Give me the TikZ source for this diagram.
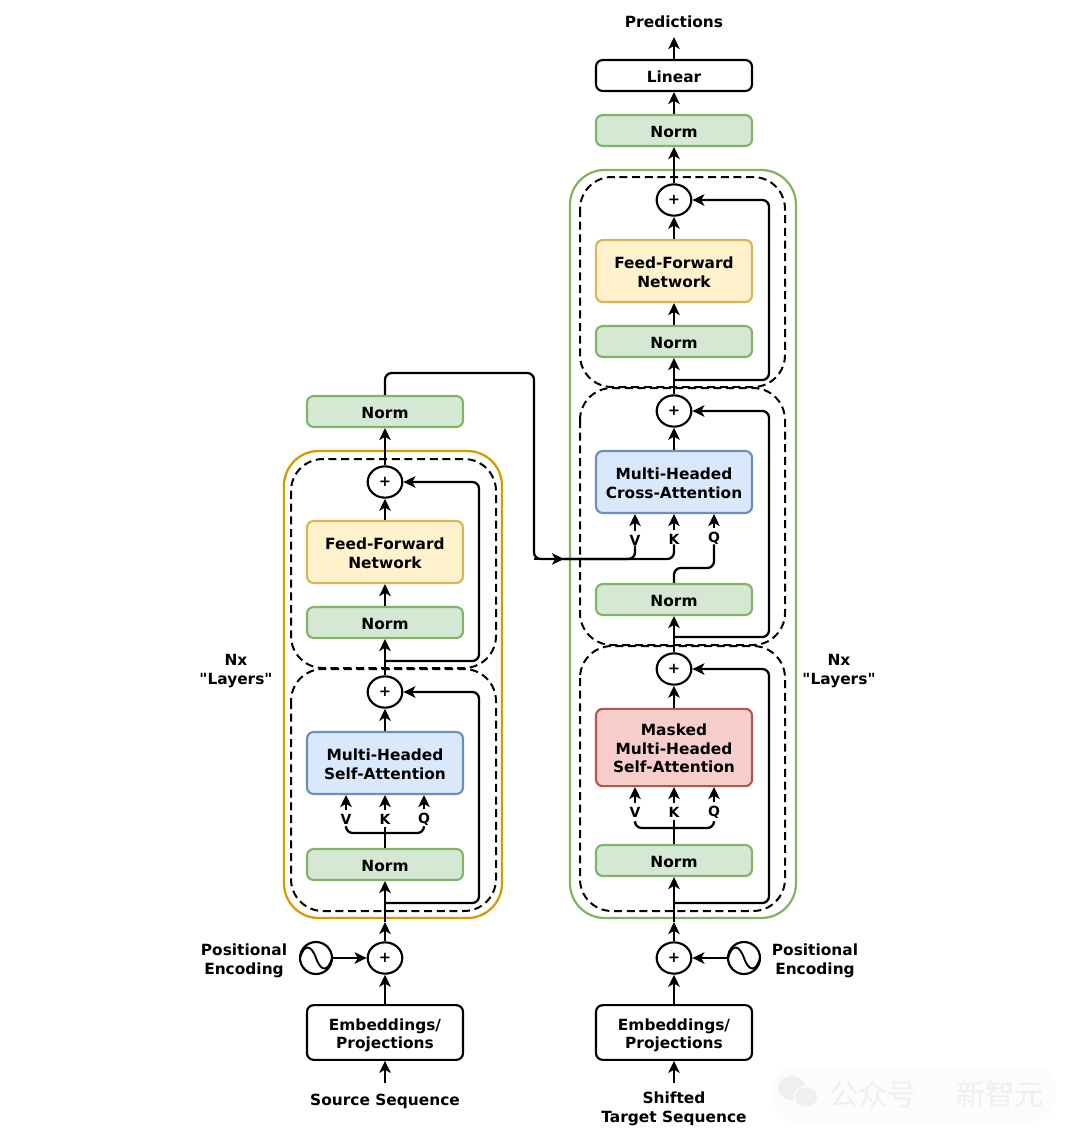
\documentclass[tikz,border=0pt]{standalone}
\usepackage{fontspec}
\setmainfont{DejaVu Sans}
\newfontfamily\plainqf{DejaVu Sans}
\newfontfamily\cjk{Noto Sans CJK SC}
\usetikzlibrary{arrows.meta,shapes.geometric}
\definecolor{gF}{HTML}{D5E8D4}\definecolor{gD}{HTML}{82B366}
\definecolor{yF}{HTML}{FFF2CC}\definecolor{yD}{HTML}{D6B656}
\definecolor{bF}{HTML}{DAE8FC}\definecolor{bD}{HTML}{6C8EBF}
\definecolor{rF}{HTML}{F8CECC}\definecolor{rD}{HTML}{B85450}
\definecolor{oD}{HTML}{D79B00}
\definecolor{wmBg}{HTML}{FCFCFC}\definecolor{wmFg}{HTML}{EFEFEF}
\newcommand\TT[1]{\raisebox{0pt}[\dimexpr\height+4.6pt\relax][\depth]{\begin{tabular}{@{}c@{}}#1\end{tabular}}}
\tikzset{
 txt/.style={font=\bfseries\fontsize{11.55pt}{13.9pt}\selectfont,align=center,inner sep=0pt},
 modbox/.style={font=\bfseries\fontsize{11.55pt}{13.9pt}\selectfont,inner sep=0pt,rounded corners=5pt,line width=1.6pt,minimum width=117pt,draw=black,fill=white},
 normbox/.style={modbox,draw=gD,fill=gF,minimum height=23.2pt},
 linbox/.style={modbox,minimum height=23.2pt},
 embbox/.style={modbox,minimum height=41pt},
 ffbox/.style={modbox,draw=yD,fill=yF,minimum height=46.5pt},
 attbox/.style={modbox,draw=bD,fill=bF,minimum height=46.5pt},
 maskbox/.style={modbox,draw=rD,fill=rF,minimum height=58pt},
 plusnode/.style={ellipse,draw=black,line width=1.6pt,fill=white,minimum width=26pt,minimum height=23.5pt,inner sep=0pt,font=\bfseries\fontsize{11pt}{12pt}\selectfont},
 sinenode/.style={circle,draw=black,line width=1.6pt,fill=white,minimum size=24pt,inner sep=0pt},
 conn/.style={line width=1.7pt,rounded corners=5pt,-{Stealth[length=9pt,width=8.6pt,inset=2.4pt]}},
 line/.style={line width=1.7pt,rounded corners=5pt},
 skip/.style={conn},
 dashbox/.style={draw=black,line width=1.5pt,dash pattern=on 6pt off 3.5pt,rounded corners=24pt},
 outerO/.style={draw=oD,line width=1.7pt,rounded corners=26pt},
 outerG/.style={draw=gD,line width=1.7pt,rounded corners=26pt},
 vkq/.style={font=\bfseries\fontsize{10.5pt}{12pt}\selectfont,inner sep=0pt},
}
\begin{document}
\begin{tikzpicture}[x=0.75pt,y=-0.75pt]
\useasboundingbox (0,0) rectangle (1080,1136);
% faint watermark
\fill[wmBg,rounded corners=18pt] (772,1066) rectangle (1056,1122);
\fill[wmFg] (792,1088) ellipse [x radius=14,y radius=12];
\fill[wmFg,draw=white,line width=0.8pt] (806,1097) ellipse [x radius=12,y radius=10.5];
\node[text=wmFg,inner sep=0pt,font=\cjk\fontsize{22pt}{24pt}\selectfont] (WA) at (873,1094) {公众号};
\node[text=wmFg,inner sep=0pt,font=\cjk\fontsize{22pt}{24pt}\selectfont] (WB) at (1000,1094) {新智元};
% outer frames
\draw[outerO] (284,451) rectangle (502,918);
\draw[outerG] (570,170) rectangle (796,918);
% dashed layer frames
\draw[dashbox] (291,459) rectangle (496,668);
\draw[dashbox] (291,669) rectangle (496,911);
\draw[dashbox] (580,177) rectangle (785,387);
\draw[dashbox] (580,388) rectangle (785,645);
\draw[dashbox] (580,646) rectangle (785,911);
% left column nodes
\node[normbox] (LN3) at (385,411.5) {\TT{Norm}};
\node[plusnode] (LP3) at (385,482) {+};
\node[ffbox] (LFF) at (385,552) {\TT{Feed-Forward\\Network}};
\node[normbox] (LN2) at (385,622.5) {\TT{Norm}};
\node[plusnode] (LP2) at (385,692) {+};
\node[attbox] (LMH) at (385,763) {\TT{Multi-Headed\\Self-Attention}};
\node[normbox] (LN1) at (385,864.5) {\TT{Norm}};
\node[plusnode] (LP1) at (385,958) {+};
\node[embbox] (LE) at (385,1032.5) {\TT{Embeddings/\\Projections}};
\node[txt] (LS) at (385,1101) {Source Sequence};
\node[sinenode] (LW) at (316,958) {};
\node[txt] (LPE) at (244,961) {Positional\\Encoding};
\node[txt] (LNx) at (236,671) {Nx\\\plainqf "Layers"};
\node[vkq] (LV) at (346,819) {V};
\node[vkq] (LK) at (385,819) {K};
\node[vkq] (LQ) at (424,819) {Q};
% right column nodes
\node[txt] (PR) at (674,22) {Predictions};
\node[linbox] (RL) at (674,75.5) {\TT{Linear}};
\node[normbox] (RN4) at (674,130.5) {\TT{Norm}};
\node[plusnode] (RP3) at (674,200) {+};
\node[ffbox] (RFF) at (674,271) {\TT{Feed-Forward\\Network}};
\node[normbox] (RN3) at (674,341.5) {\TT{Norm}};
\node[plusnode] (RP2) at (674,411) {+};
\node[attbox] (RCA) at (674,482) {\TT{Multi-Headed\\Cross-Attention}};
\node[normbox] (RN2) at (674,599.5) {\TT{Norm}};
\node[plusnode] (RP1) at (674,669) {+};
\node[maskbox] (RMA) at (674,747.5) {\TT{Masked\\Multi-Headed\\Self-Attention}};
\node[normbox] (RN1) at (674,860.5) {\TT{Norm}};
\node[plusnode] (RP0) at (674,958) {+};
\node[embbox] (RE) at (674,1032.5) {\TT{Embeddings/\\Projections}};
\node[txt] (RS) at (674,1109) {Shifted\\Target Sequence};
\node[sinenode] (RW) at (744,958) {};
\node[txt] (RPE) at (815,961) {Positional\\Encoding};
\node[txt] (RNx) at (839,671) {Nx\\\plainqf "Layers"};
\node[vkq] (CV) at (635,540) {V};
\node[vkq] (CK) at (674,539) {K};
\node[vkq] (CQ) at (714,538) {Q};
\node[vkq] (MV) at (635,812) {V};
\node[vkq] (MK) at (674,812) {K};
\node[vkq] (MQ) at (714,812) {Q};
% coordinates
\coordinate (LB1) at (385,903);
\coordinate (LB2) at (385,661);
\coordinate (LA) at (385,922);
\coordinate (RB1) at (674,903);
\coordinate (RB2) at (674,637);
\coordinate (RB3) at (674,380);
\coordinate (RA) at (674,922);
\coordinate (LSt) at (385,1083);
\coordinate (RSt) at (674,1083);
\coordinate (PT) at (674,37);
\coordinate (XM) at (564,559);
% sine glyphs
\draw[line width=1.4pt] (300,958) .. controls (304,944) and (311,944) .. (316,958) .. controls (321,972) and (328,972) .. (332,958);
\draw[line width=1.4pt] (728,958) .. controls (732,944) and (739,944) .. (744,958) .. controls (749,972) and (756,972) .. (760,958);
% left connectors
\draw[conn] (LSt) -- (LE.south);
\draw[conn] (LE.north) -- (LP1.south);
\draw[conn] (LW.east) -- (LP1.west);
\draw[conn] (LP1.north) -- (LA);
\draw[conn] (LA) -- (LN1.south);
\draw[line] (LN1.north) -- (385,827);
\draw[line] (346,828) -- (346,833) -- (424,833) -- (424,828);
\draw[conn] (LV.north) ++(0,-4) -- (346,795);
\draw[conn] (LK.north) ++(0,-4) -- (385,795);
\draw[conn] (LQ.north) ++(0,-4) -- (424,795);
\draw[conn] (LMH.north) -- (LP2.south);
\draw[conn] (LP2.north) -- (LN2.south);
\draw[conn] (LN2.north) -- (LFF.south);
\draw[conn] (LFF.north) -- (LP3.south);
\draw[conn] (LP3.north) -- (LN3.south);
\draw[skip] (LB1) -- (479,903) -- (479,692) -- (LP2.east);
\draw[skip] (LB2) -- (479,661) -- (479,482) -- (LP3.east);
% cross connection
\draw[line] (LN3.north) -- (385,373) -- (534,373) -- (534,559) -- (XM);
\draw[conn] (534,559) -- (XM);
\draw[line] (XM) -- (635,559) -- (CV.south);
\draw[line] (XM) -- (674,559) -- (CK.south);
\draw[line] (RN2.north) -- (674,568) -- (714,568) -- (CQ.south);
% right connectors
\draw[conn] (RSt) -- (RE.south);
\draw[conn] (RE.north) -- (RP0.south);
\draw[conn] (RW.west) -- (RP0.east);
\draw[conn] (RP0.north) -- (RA);
\draw[conn] (RA) -- (RN1.south);
\draw[line] (RN1.north) -- (674,820);
\draw[line] (635,823) -- (635,828) -- (714,828) -- (714,823);
\draw[conn] (MV.north) ++(0,-4) -- (635,787);
\draw[conn] (MK.north) ++(0,-4) -- (674,787);
\draw[conn] (MQ.north) ++(0,-4) -- (714,787);
\draw[conn] (RMA.north) -- (RP1.south);
\draw[conn] (RP1.north) -- (RN2.south);
\draw[conn] (CV.north) ++(0,-4) -- (635,514);
\draw[conn] (CK.north) ++(0,-4) -- (674,514);
\draw[conn] (CQ.north) ++(0,-4) -- (714,514);
\draw[conn] (RCA.north) -- (RP2.south);
\draw[conn] (RP2.north) -- (RN3.south);
\draw[conn] (RN3.north) -- (RFF.south);
\draw[conn] (RFF.north) -- (RP3.south);
\draw[conn] (RP3.north) -- (RN4.south);
\draw[conn] (RN4.north) -- (RL.south);
\draw[conn] (RL.north) -- (PT);
\draw[skip] (RB1) -- (769,903) -- (769,669) -- (RP1.east);
\draw[skip] (RB2) -- (769,637) -- (769,411) -- (RP2.east);
\draw[skip] (RB3) -- (769,380) -- (769,200) -- (RP3.east);
\end{tikzpicture}
\end{document}
